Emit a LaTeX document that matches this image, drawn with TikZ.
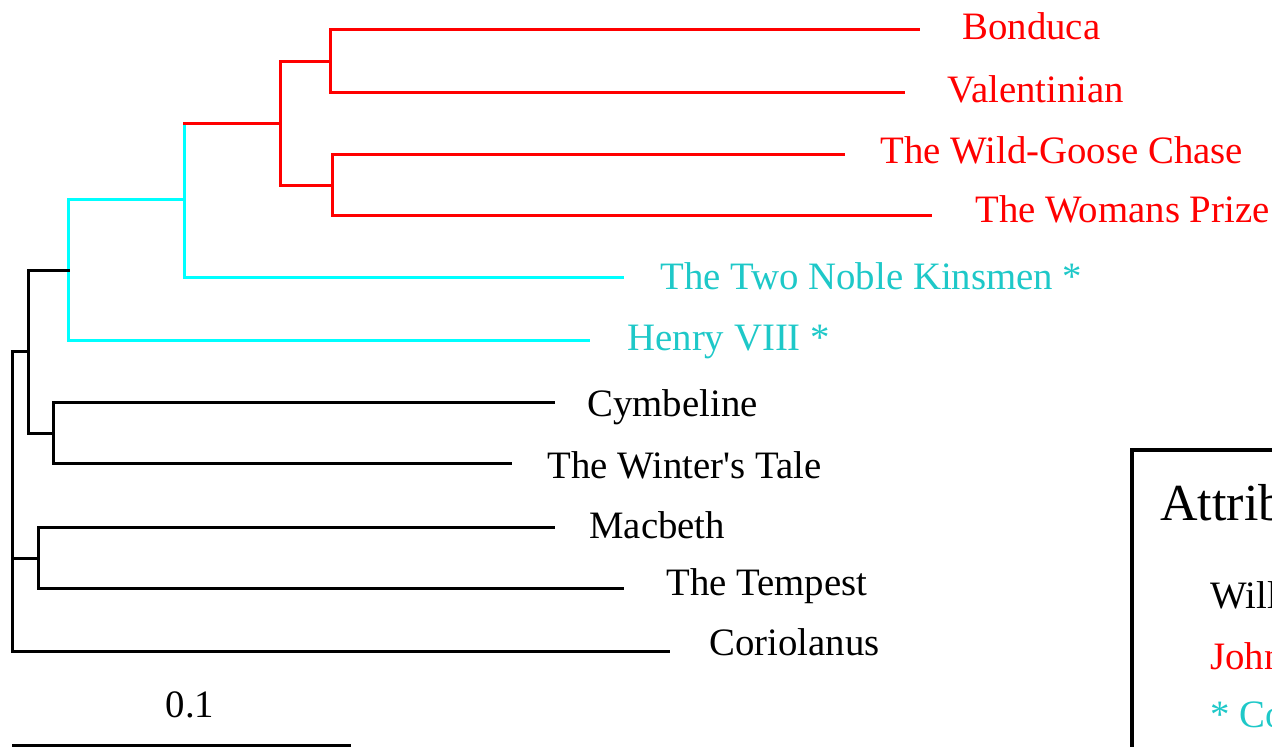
\documentclass[tikz,border=0pt]{standalone}
\usepackage{fontspec}
\setmainfont{Liberation Serif}[Ligatures=TeXOff]
\definecolor{treecyan}{RGB}{0,255,255}
\definecolor{labcyan}{RGB}{30,200,200}
\definecolor{treered}{RGB}{255,0,0}
\begin{document}
\begin{tikzpicture}[x=0.5pt,y=-0.5pt,
  br/.style={line width=1.5pt,line cap=rect},
  lab/.style={anchor=base west,inner sep=0pt,font=\fontsize{19.4}{22}\selectfont},
  legt/.style={anchor=base west,inner sep=0pt,font=\fontsize{26}{30}\selectfont}]
\useasboundingbox (0,0) rectangle (1272,746);
\clip (0,0) rectangle (1272,746);
% internal nodes
\coordinate (R) at (12,501);
\coordinate (A) at (28,351);
\coordinate (B) at (38,558);
\coordinate (C) at (68,270);
\coordinate (D) at (53,433);
\coordinate (E) at (184,199);
\coordinate (F) at (280,123);
\coordinate (G) at (330,61);
\coordinate (H) at (332,185);
% leaf ends
\coordinate (bon) at (918,29);
\coordinate (val) at (903,92);
\coordinate (wgc) at (843,154);
\coordinate (wp) at (930,215);
\coordinate (tnk) at (622,277);
\coordinate (hen) at (588,340);
\coordinate (cym) at (553,402);
\coordinate (wt) at (510,463);
\coordinate (mac) at (553,527);
\coordinate (tem) at (622,588);
\coordinate (cor) at (668,651);
% verticals
\draw[br] (R |- A) -- (R |- cor);
\draw[br] (A |- C) -- (A |- D);
\draw[br] (B |- mac) -- (B |- tem);
\draw[br] (D |- cym) -- (D |- wt);
\draw[br,treecyan] (C |- E) -- (C |- hen);
\draw[br,treecyan] (E |- F) -- (E |- tnk);
\draw[br,treered] (F |- G) -- (F |- H);
\draw[br,treered] (G |- bon) -- (G |- val);
\draw[br,treered] (H |- wgc) -- (H |- wp);
% horizontals
\draw[br] (R |- A) -- (A);
\draw[br] (R |- B) -- (B);
\draw[br] (R |- cor) -- (cor);
\draw[br] (A |- C) -- (C);
\draw[br] (A |- D) -- (D);
\draw[br] (D |- cym) -- (cym);
\draw[br] (D |- wt) -- (wt);
\draw[br] (B |- mac) -- (mac);
\draw[br] (B |- tem) -- (tem);
\draw[br,treecyan] (C |- E) -- (E);
\draw[br,treecyan] (C |- hen) -- (hen);
\draw[br,treecyan] (E |- tnk) -- (tnk);
\draw[br,treered] (E |- F) -- (F);
\draw[br,treered] (F |- G) -- (G);
\draw[br,treered] (F |- H) -- (H);
\draw[br,treered] (G |- bon) -- (bon);
\draw[br,treered] (G |- val) -- (val);
\draw[br,treered] (H |- wgc) -- (wgc);
\draw[br,treered] (H |- wp) -- (wp);
% labels
\node[lab,text=treered] (lbon) at (962,39) {Bonduca};
\node[lab,text=treered] (lval) at (947,102) {Valentinian};
\node[lab,text=treered] (lwgc) at (880,163) {The Wild-Goose Chase};
\node[lab,text=treered] (lwp) at (975,222) {The Womans Prize};
\node[lab,text=labcyan] (ltnk) at (660,289) {The Two Noble Kinsmen *};
\node[lab,text=labcyan] (lhen) at (627,350) {Henry VIII *};
\node[lab] (lcym) at (587,416) {Cymbeline};
\node[lab] (lwt) at (547,478) {The Winter's Tale};
\node[lab] (lmac) at (589,538) {Macbeth};
\node[lab] (ltem) at (666,595) {The Tempest};
\node[lab] (lcor) at (709,655) {Coriolanus};
% scale bar
\coordinate (s1) at (12,745);
\coordinate (s2) at (351,745);
\draw[br,line cap=butt] (s1) -- (s2);
\node[lab,anchor=base] (sl) at (190,717) {0.1};
% legend
\draw[line width=1.8pt] (1132,450) rectangle (1500,900);
\node[legt] (lt) at (1160,520) {Attribution};
\node[lab] (l1) at (1210,608) {William Shakespeare};
\node[lab,text=treered] (l2) at (1210,669) {John Fletcher};
\node[lab,text=labcyan] (l3) at (1210,727) {* Collaboration};
\end{tikzpicture}
\end{document}
